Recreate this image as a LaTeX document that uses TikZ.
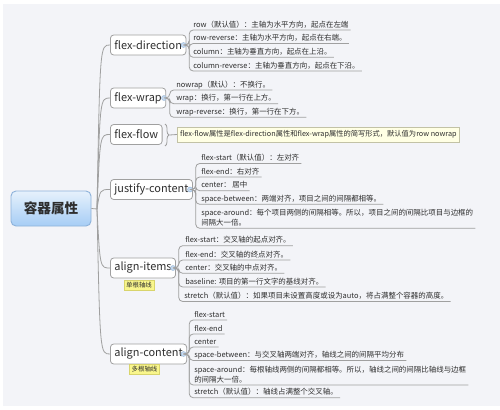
\documentclass[tikz,border=0pt]{standalone}
\usepackage{fontspec}
\setmainfont{Noto Sans CJK SC}
\usetikzlibrary{decorations.pathreplacing}
\definecolor{bg}{HTML}{F3F4F8}
\definecolor{ln}{HTML}{A0A0A0}
\definecolor{tx}{HTML}{2E2E2E}
\definecolor{rootA}{HTML}{E6F1FC}
\definecolor{rootB}{HTML}{A6CDF5}
\definecolor{rootE}{HTML}{8DB2DA}
\definecolor{dotF}{HTML}{CADDF2}
\definecolor{dotE}{HTML}{A3BFDD}
\definecolor{noteF}{HTML}{FFFFE4}
\definecolor{noteE}{HTML}{C2C2A6}
\definecolor{tagF}{HTML}{F9F68C}
\definecolor{tagE}{HTML}{D8D46C}
\begin{document}
\begin{tikzpicture}[x=0.75pt,y=-0.75pt,
  rootbox/.style={draw=rootE, line width=0.7pt, rounded corners=3.75pt, top color=rootA, bottom color=rootB,
    minimum width=60pt, minimum height=26.25pt, inner sep=0pt, text=tx, font=\fontsize{10.2}{12}\selectfont\bfseries},
  topic/.style={draw=ln, fill=white, line width=0.6pt, rounded corners=2.5pt, minimum height=15pt,
    inner xsep=3pt, inner ysep=0pt, anchor=west, text=tx, font=\fontsize{8.2}{10}\selectfont},
  dot/.style={circle, draw=dotE, fill=dotF, line width=0.5pt, minimum size=3.6pt, inner sep=0pt},
  leaf/.style={anchor=south west, inner xsep=1.5pt, inner ysep=1.1pt, text depth=0.8pt, text=tx,
    font=\fontsize{5.6}{7.5}\selectfont},
  leaftwo/.style={anchor=south west, inner xsep=1.5pt, inner ysep=1.1pt, align=left, text=tx,
    font=\fontsize{5.6}{7.5}\selectfont},
  br/.style={draw=ln, line width=0.6pt},
  cn/.style={draw=ln, line width=0.6pt, rounded corners=3pt},
  note/.style={draw=noteE, fill=noteF, line width=0.5pt, anchor=west, minimum height=11.25pt,
    inner xsep=2pt, inner ysep=0pt, text=tx, font=\fontsize{5.45}{7}\selectfont},
  tag/.style={draw=tagE, fill=tagF, line width=0.4pt, minimum width=22.5pt, minimum height=7.5pt,
    inner sep=0pt, text=tx, font=\fontsize{4.8}{6}\selectfont}
]
\useasboundingbox (0,0) rectangle (500,410);
\fill[white] (0,0) rectangle (500,410);
\fill[bg] (3,4) rectangle (500,406);

% root
\node[rootbox] (root) at (51,208.5) {容器属性};
\coordinate (tr) at (97,209);

% level 1
\node[topic] (fd) at (110,45) {flex-direction};
\node[topic] (fw) at (110,98) {flex-wrap};
\node[topic] (ff) at (110,134.5) {flex-flow};
\node[topic] (jc) at (110,189.5) {justify-content};
\node[topic] (ai) at (110,268) {align-items};
\node[topic] (ac) at (110,354) {align-content};

\draw[br] (root.east) -- (tr);
\draw[br] (tr) .. controls (100,45) .. (fd.west);
\draw[br] (tr) .. controls (100,98) .. (fw.west);
\draw[br] (tr) .. controls (100,134.5) .. (ff.west);
\draw[br] (tr) .. controls (100,189.5) .. (jc.west);
\draw[br] (tr) .. controls (100,268) .. (ai.west);
\draw[br] (tr) .. controls (100,354) .. (ac.west);

% tags
\node[tag] (t1) at (139,285) {单根轴线};
\node[tag] (t2) at (144.5,369.5) {多根轴线};

% flex-direction
\node[dot] (dfd) at (183.5,45) {};
\node[leaf] (a1) at (191,30) {row（默认值）：主轴为水平方向，起点在左端};
\node[leaf] (a2) at (191,43.5) {row-reverse：主轴为水平方向，起点在右端。};
\node[leaf] (a3) at (191,57.3) {column：主轴为垂直方向，起点在上沿。};
\node[leaf] (a4) at (191,71) {column-reverse：主轴为垂直方向，起点在下沿。};
\foreach \c in {a1,a2,a3,a4} \draw[cn] (dfd.east) -- ++(3,0) |- (\c.south east);

% flex-wrap
\node[dot] (dfw) at (164,98) {};
\node[leaf] (b1) at (174,90) {nowrap（默认）：不换行。};
\node[leaf] (b2) at (174,103.7) {wrap：换行，第一行在上方。};
\node[leaf] (b3) at (174,117.3) {wrap-reverse：换行，第一行在下方。};
\foreach \c in {b1,b2,b3} \draw[cn] (dfw.east) -- ++(3,0) |- (\c.south east);

% flex-flow note
\node[note] (nt) at (177,134.5) {flex-flow属性是flex-direction属性和flex-wrap属性的简写形式，默认值为row nowrap};
\draw[br, decorate, decoration={brace, amplitude=3pt}] (165,124) -- (165,146);
\draw[br] (169.5,135) -- (nt.west);

% justify-content
\node[dot] (djc) at (190,189.5) {};
\node[leaf] (c1) at (199,163.5) {flex-start（默认值）：左对齐};
\node[leaf] (c2) at (199,177) {flex-end：右对齐};
\node[leaf] (c3) at (199,190.7) {center： 居中};
\node[leaf] (c4) at (199,204.3) {space-between：两端对齐，项目之间的间隔都相等。};
\node[leaftwo] (c5) at (199,228.3) {space-around：每个项目两侧的间隔相等。所以，项目之间的间隔比项目与边框的\\间隔大一倍。};
\foreach \c in {c1,c2,c3,c4,c5} \draw[cn] (djc.east) -- ++(3,0) |- (\c.south east);

% align-items
\node[dot] (dai) at (173,268) {};
\node[leaf] (d1) at (183,245.7) {flex-start：交叉轴的起点对齐。};
\node[leaf] (d2) at (183,260) {flex-end：交叉轴的终点对齐。};
\node[leaf] (d3) at (183,273.3) {center：交叉轴的中点对齐。};
\node[leaf] (d4) at (183,287) {baseline: 项目的第一行文字的基线对齐。};
\node[leaf] (d5) at (182,301.5) {stretch（默认值）：如果项目未设置高度或设为auto，将占满整个容器的高度。};
\foreach \c in {d1,d2,d3,d4,d5} \draw[cn] (dai.east) -- ++(3,0) |- (\c.south east);

% align-content
\node[dot] (dac) at (183.5,354) {};
\node[leaf] (e1) at (192,320) {flex-start};
\node[leaf] (e2) at (192,334) {flex-end};
\node[leaf] (e3) at (192,347) {center};
\node[leaf] (e4) at (192,360.5) {space-between：与交叉轴两端对齐，轴线之间的间隔平均分布};
\node[leaftwo] (e5) at (192,385) {space-around：每根轴线两侧的间隔都相等。所以，轴线之间的间隔比轴线与边框\\的间隔大一倍。};
\node[leaf] (e6) at (192,397.7) {stretch（默认值）：轴线占满整个交叉轴。};
\foreach \c in {e1,e2,e3,e4,e5,e6} \draw[cn] (dac.east) -- ++(3,0) |- (\c.south east);
\end{tikzpicture}
\end{document}
